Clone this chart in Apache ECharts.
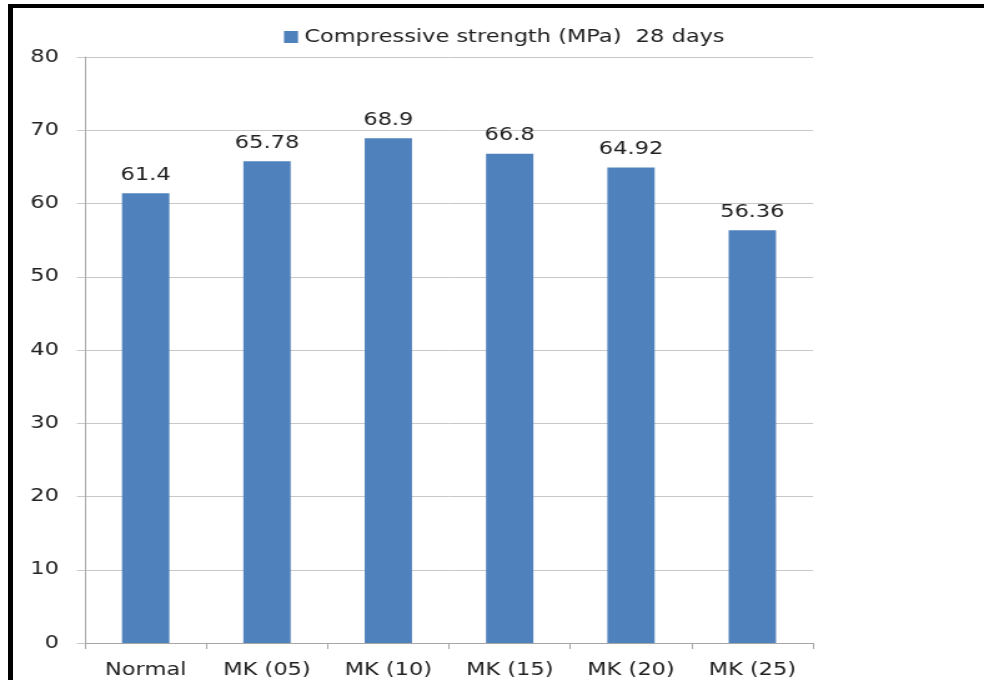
<!DOCTYPE html>
<html><head><meta charset="utf-8">
<script src="https://cdn.jsdelivr.net/npm/echarts@6/dist/echarts.min.js"></script>
<style>
html,body{margin:0;padding:0;background:#fff;overflow:hidden}
#wrap{width:984px;height:680px;overflow:hidden;position:relative;background:#fff}
#c{position:absolute;left:0;top:0;width:788px;height:680px;transform:scaleX(1.248731);transform-origin:0 0}
.bl{position:absolute;left:8px;top:4px;width:5px;height:676px;background:#000;z-index:5}
.bt{position:absolute;left:8px;top:4px;width:976px;height:4px;background:#000;z-index:5}
</style>
</head><body><div id="wrap"><div id="c"></div><div class="bl"></div><div class="bt"></div></div>
<script>
var categories = ["Normal", "MK (05)", "MK (10)", "MK (15)", "MK (20)", "MK (25)"];
var strength28 = [61.4, 65.78, 68.9, 66.8, 64.92, 56.36];
var seriesName = "Compressive strength (MPa)  28 days";
var yMin = 0, yMax = 80, yStep = 10;

var S = 984 / 788; // horizontal stretch of the reference picture
var chart = echarts.init(document.getElementById('c'), null, {renderer: 'canvas'});
var font = 'DejaVu Sans';
chart.setOption({
  animation: false,
  backgroundColor: '#fff',
  legend: {
    left: (284 - 5 * S) / S, top: 23,
    itemWidth: 14 / S, itemHeight: 12, itemGap: 8,
    textStyle: {fontFamily: font, fontSize: 18, color: '#222'},
    data: [{name: seriesName, icon: 'rect'}]
  },
  grid: {left: 85 / S, right: (984 - 813) / S, top: 57, bottom: 37, containLabel: false},
  xAxis: {
    type: 'category', data: categories,
    axisLine: {lineStyle: {color: '#a6a6a6', width: 1}},
    axisTick: {show: true, alignWithLabel: false, length: 6, lineStyle: {color: '#a6a6a6'}},
    axisLabel: {fontFamily: font, fontSize: 18, color: '#222', margin: 18, interval: 0}
  },
  yAxis: {
    type: 'value', min: yMin, max: yMax, interval: yStep,
    axisLine: {show: true, lineStyle: {color: '#a6a6a6'}},
    axisTick: {show: true, length: 8 / S, lineStyle: {color: '#c8c8c8'}},
    splitLine: {lineStyle: {color: '#c8c8c8', width: 1}},
    axisLabel: {fontFamily: font, fontSize: 18, color: '#222', margin: 26 / S}
  },
  series: [{
    name: seriesName, type: 'bar', data: strength28,
    barWidth: '39%',
    itemStyle: {color: '#4F81BD'},
    label: {show: true, position: 'top', distance: 9, fontFamily: font, fontSize: 18, color: '#222'}
  }]
});
</script></body></html>
